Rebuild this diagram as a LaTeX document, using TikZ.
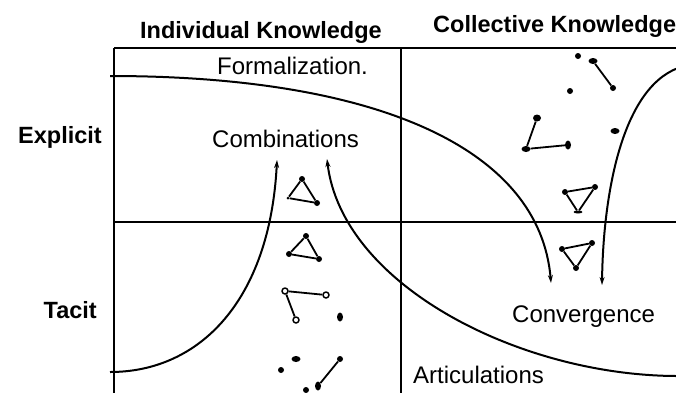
\documentclass[tikz,border=0pt]{standalone}
\usepackage{fontspec}
\setmainfont{Liberation Sans}
\usetikzlibrary{positioning,arrows.meta,shapes.geometric}
\tikzset{
	quad/.style={x=1pt,y=-1pt,line join=round},
	frame/.style={line width=2.6pt},
	flow/.style={line width=2pt,-{Stealth[length=8pt,width=5pt]}},
	heading/.style={font=\fontsize{23.5}{26}\selectfont\bfseries,inner sep=0pt},
	phase/.style={font=\fontsize{24}{28}\selectfont,inner sep=0pt},
	dot/.style={circle,fill,inner sep=0pt,minimum size=6pt},
	blob/.style={ellipse,fill,inner sep=0pt,minimum width=9pt,minimum height=6pt},
	tallblob/.style={ellipse,fill,inner sep=0pt,minimum width=6pt,minimum height=9pt},
	ring/.style={circle,draw,fill=white,line width=1.5pt,inner sep=0pt,minimum size=6pt},
	link/.style={line width=1.8pt}
}

\begin{document}
\begin{tikzpicture}[quad]
	\useasboundingbox (0,0) rectangle (676,392);
	
	% quadrant frame
	\draw[frame] (114,48) -- (680,48);
	\draw[frame] (114,48) -- (114,396);
	\draw[frame] (401,48) -- (401,396);
	\draw[frame] (114,222) -- (680,222);
	
	% headings
	\node[heading,anchor=base west] (indiv) at (140,38) {Individual Knowledge};
	\node[heading,anchor=base west] (coll) at (433,32) {Collective Knowledge};
	\node[heading,anchor=base east] (expl) at (102,143) {Explicit};
	\node[heading,anchor=base east] (tacit) at (97,318) {Tacit};
	
	% phases
	\node[phase,anchor=base west] (form) at (217,74) {Formalization.};
	\node[phase,anchor=base west] (comb) at (212,147) {Combinations};
	\node[phase,anchor=base west] (conv) at (512,322) {Convergence};
	\node[phase,anchor=base west] (artic) at (413,383) {Articulations};
	
	% ends of the flows
	\coordinate (fstart) at (110,76);
	\coordinate (fend) at (551,283);
	\coordinate (astart) at (110,372);
	\coordinate (aend) at (277,160);
	\coordinate (cstart) at (678,376);
	\coordinate (cend) at (327,159);
	\coordinate (vstart) at (678,68);
	\coordinate (vend) at (602,285);
	
	\draw[flow] (fstart) .. controls (380,76) and (540,150) .. (fend);
	\draw[flow] (astart) .. controls (200,372) and (270,300) .. (aend);
	\draw[flow] (cstart) .. controls (520,376) and (342,285) .. (cend);
	\draw[flow] (vstart) .. controls (620,90) and (603,200) .. (vend);
	
	% individual side
	\node[dot] (a1) at (302,179) {};
	\node[dot,minimum size=3pt] (a2) at (288,198) {};
	\node[dot] (a3) at (317,203) {};
	\path[link] (a1) edge (a2) (a1) edge (a3) (a2) edge (a3);
	
	\node[dot] (b1) at (306,236) {};
	\node[dot] (b2) at (289,254) {};
	\node[dot] (b3) at (319,259) {};
	\path[link] (b1) edge (b2) (b1) edge (b3) (b2) edge (b3);
	
	\node[ring] (c1) at (285,291) {};
	\node[ring] (c2) at (326,295) {};
	\node[ring] (c3) at (296,320) {};
	\path[link] (c1) edge (c2) (c1) edge (c3);
	\node[tallblob] (c4) at (340,317) {};
	
	\node[blob] (e1) at (296,359) {};
	\node[dot] (e2) at (281,370) {};
	\node[dot] (e3) at (340,359) {};
	\node[tallblob] (e4) at (318,386) {};
	\node[dot] (e5) at (306,390) {};
	\path[link] (e3) edge (e4);
	
	% collective side
	\node[dot] (f1) at (578,56) {};
	\node[blob] (f2) at (593,61) {};
	\node[dot] (f3) at (613,88) {};
	\path[link] (f2) edge (f3);
	\node[dot] (f4) at (570,91) {};
	
	\node[blob,minimum width=8pt,minimum height=7pt] (g1) at (537,118) {};
	\node[blob] (g2) at (526,149) {};
	\node[tallblob] (g3) at (568,145) {};
	\path[link] (g1) edge (g2) (g2) edge (g3);
	\node[blob] (g4) at (615,131) {};
	
	\node[dot] (d1) at (565,192) {};
	\node[dot] (d2) at (595,187) {};
	\node[blob,minimum height=3pt] (d3) at (578,212) {};
	\path[link] (d1) edge (d2) (d1) edge (d3) (d2) edge (d3);
	
	\node[dot] (h1) at (562,249) {};
	\node[dot] (h2) at (592,243) {};
	\node[dot] (h3) at (576,268) {};
	\path[link] (h1) edge (h2) (h1) edge (h3) (h2) edge (h3);
\end{tikzpicture}
\end{document}
